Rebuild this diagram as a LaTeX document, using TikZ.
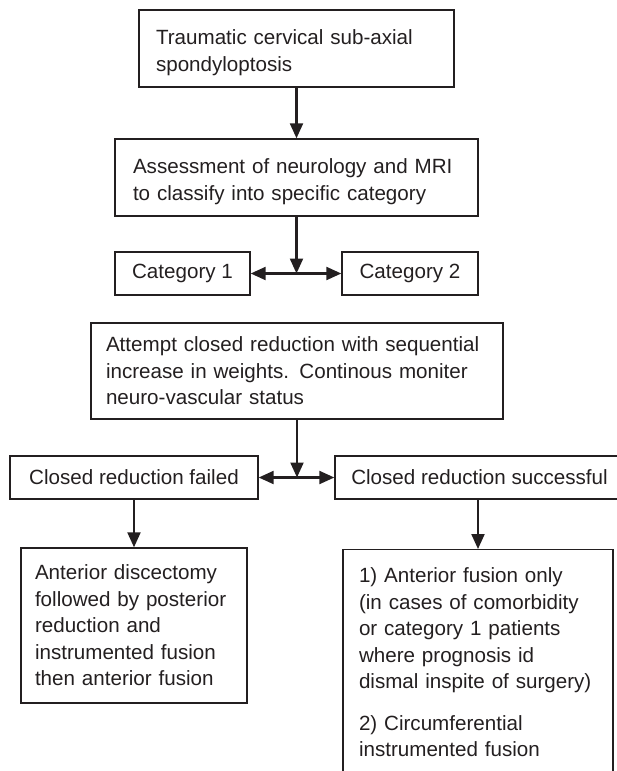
\documentclass[tikz,border=0pt]{standalone}
\usepackage{fontspec}
\setmainfont{Liberation Sans}
\usetikzlibrary{arrows.meta,positioning}
\definecolor{ink}{HTML}{231F20}
\newcommand{\headroom}{\rule{0pt}{23pt}}

\begin{document}
\begin{tikzpicture}[x=1pt,y=-1pt,
        stagebox/.style={draw=ink,line width=1.4pt,text=ink,inner ysep=0pt,
          font=\fontsize{20.6}{26.5}\selectfont},
        textbox/.style={stagebox,align=left},
        flow/.style={draw=ink,line width=2.2pt,-{Triangle[length=15pt,width=13pt]}},
        twoway/.style={flow,{Triangle[length=15pt,width=13pt]}-{Triangle[length=15pt,width=13pt]}}]
        \useasboundingbox (0,0) rectangle (616,771);

        \node[textbox,text width=281pt,inner xsep=17pt,minimum height=77pt] (trauma) at (296.5,48.5)
          {\headroom Traumatic cervical sub-axial\\spondyloptosis};
        \node[textbox,text width=327pt,inner xsep=18pt,minimum height=77pt] (assess) at (296.5,177.5)
          {\headroom Assessment of neurology and MRI\\to classify into specific category};

        \node[stagebox,minimum width=135pt,minimum height=43pt] (cat1) at (182.5,273.5) {Category 1};
        \node[stagebox,minimum width=136pt,minimum height=43pt] (cat2) at (410,273.5) {Category 2};
        \coordinate (split1) at (assess.south |- cat1.east);

        \node[textbox,text width=382pt,inner xsep=15pt,minimum height=96pt] (attempt) at (297,371)
          {Attempt closed reduction with sequential\\increase in weights. Continous moniter\\neuro-vascular status};

        \node[stagebox,minimum width=248pt,minimum height=43pt] (failed) at (134,477.5) {Closed reduction failed};
        \node[stagebox,minimum width=289pt,minimum height=43pt] (success) at (479.5,477.5) {Closed reduction successful};
        \coordinate (split2) at (attempt.south |- failed.east);

        \node[textbox,text width=198pt,inner xsep=14pt,minimum height=155pt] (anterior) at (134,625.5)
          {Anterior discectomy\\followed by posterior\\reduction and\\instrumented fusion\\then anterior fusion};
        \node[textbox,text width=238pt,inner xsep=16pt,inner ysep=18pt,anchor=north] (options) at (478,549)
          {1) Anterior fusion only\\(in cases of comorbidity\\or category 1 patients\\where prognosis id\\dismal inspite of surgery)\\[15pt]
           2) Circumferential\\instrumented fusion\rule[-40pt]{0pt}{41pt}};
        \coordinate (succout) at (options.north |- success.south);

        \draw[flow] (trauma) -- (assess);
        \draw[flow] (assess) -- (split1);
        \draw[twoway] (cat1) -- (cat2);

        \draw[flow] (attempt) -- (split2);
        \draw[twoway] (failed) -- (success);

        \draw[flow] (failed) -- (anterior);
        \draw[flow] (succout) -- (options);
\end{tikzpicture}
\end{document}
